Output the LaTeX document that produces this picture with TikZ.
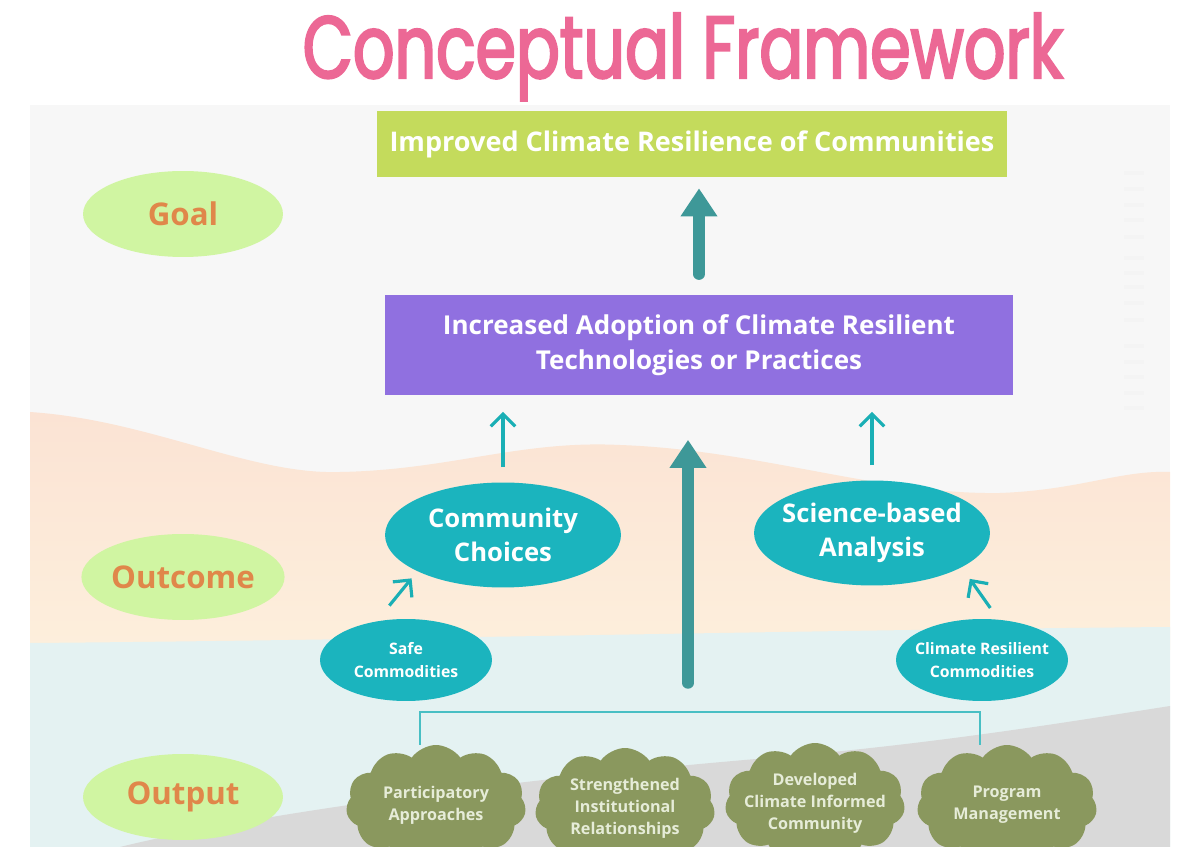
\documentclass[tikz,border=0pt]{standalone}
\usepackage{fontspec}
\setmainfont{Open Sans}
\newfontfamily\titlefont{Poppins}[FakeStretch=0.74,FakeBold=2.5]
\usetikzlibrary{positioning,shapes.geometric,shapes.symbols,arrows.meta}

\definecolor{panel}{HTML}{F7F7F7}
\definecolor{peach}{HTML}{FBE3D4}
\definecolor{cream}{HTML}{FDEFDC}
\definecolor{skyband}{HTML}{E4F2F2}
\definecolor{ground}{HTML}{D9D9D9}
\definecolor{titlepink}{HTML}{EC6895}
\definecolor{limegreen}{HTML}{C4DB5C}
\definecolor{lavender}{HTML}{9070E0}
\definecolor{lightgreen}{HTML}{D0F5A2}
\definecolor{labelorange}{HTML}{E0874A}
\definecolor{tealfill}{HTML}{1BB4BE}
\definecolor{arrowteal}{HTML}{3E9898}
\definecolor{cyanline}{HTML}{1AAFB5}
\definecolor{olive}{HTML}{8A985E}
\definecolor{cloudtext}{HTML}{E6ECD8}

\begin{document}
\begin{tikzpicture}[
x=0.02cm, y=-0.02cm,
levelnode/.style={ellipse, fill=lightgreen, text=labelorange, font=\fontsize{17.8}{20}\selectfont\bfseries, minimum width=4cm, minimum height=1.72cm, inner sep=0pt},
goalbox/.style={rectangle, fill=limegreen, text=white, font=\fontsize{15.4}{18}\selectfont\bfseries, minimum width=12.6cm, minimum height=1.32cm},
purplebox/.style={rectangle, fill=lavender, text=white, align=center, font=\fontsize{14.8}{20}\selectfont\bfseries, minimum width=12.56cm, minimum height=2.02cm},
tealnode/.style={ellipse, fill=tealfill, text=white, align=center, font=\fontsize{14.6}{19.5}\selectfont\bfseries, minimum width=4.72cm, minimum height=2.1cm, inner xsep=-4pt, inner ysep=0pt},
smalltealnode/.style={ellipse, fill=tealfill, text=white, align=center, font=\fontsize{9}{13}\selectfont\bfseries, minimum width=3.44cm, minimum height=1.64cm, inner xsep=-6pt, inner ysep=0pt},
cloudnode/.style={cloud, cloud puffs=11, cloud puff arc=110, aspect=1.5, fill=olive, text=cloudtext, align=center, font=\fontsize{9.2}{12.5}\selectfont\bfseries, minimum width=3.6cm, minimum height=2.4cm, inner xsep=-14pt, inner ysep=-8pt},
bigarrow/.style={draw=arrowteal, line width=6.5pt, line cap=round, -{Triangle[width=20pt,length=16pt]}},
thinarrow/.style={draw=cyanline, line width=1.8pt, -{Straight Barb[length=7pt,width=14pt]}},
bracket/.style={draw=cyanline!80, line width=1.5pt},
]
\useasboundingbox (0,0) rectangle (1177,847);
\clip (0,0) rectangle (1177,847);

%Background
\fill[panel] (30,105) rectangle (1170,847);
\shade[top color=peach, bottom color=cream] (30,412) .. controls (150,420) and (250,475) .. (340,472) .. controls (450,470) and (520,440) .. (620,445) .. controls (760,450) and (880,495) .. (1000,493) .. controls (1080,490) and (1120,470) .. (1170,472) -- (1170,650) -- (30,650) -- cycle;
\fill[skyband] (30,643) .. controls (400,640) and (800,630) .. (1170,627) -- (1170,847) -- (30,847) -- cycle;
\fill[ground] (120,847) .. controls (250,815) and (500,780) .. (780,757) .. controls (950,742) and (1080,720) .. (1170,706) -- (1170,847) -- cycle;
\foreach \y in {173,189,205,220,237,258,273,287,303,320,346,362,377,393,408}
  \draw[gray!9, line width=2.5pt] (1124,\y) -- (1144,\y);

%Nodes
\node[text=titlepink, font=\titlefont\fontsize{50}{56}\selectfont, anchor=base] (title) at (683,78) {Conceptual Framework};

\node[goalbox](goal) at (692,144){Improved Climate Resilience of Communities};
\node[purplebox](adopt) at (699,345){Increased Adoption of Climate Resilient\\Technologies or Practices};

\node[levelnode](lgoal) at (183,214){Goal};
\node[levelnode](loutcome) at (183,577){Outcome};
\node[levelnode](loutput) at (183,797){Output};

\node[tealnode](choices) at (503,535){Community\\Choices};
\node[tealnode](science) at (872,533){Science-based\\Analysis};
\node[smalltealnode](safe) at (406,660){Safe\\Commodities};
\node[smalltealnode](resilient) at (982,660){Climate Resilient\\Commodities};

\node[cloudnode](participatory) at (436,805){Participatory\\Approaches};
\node[cloudnode](institutional) at (625,808){Strengthened\\Institutional\\Relationships};
\node[cloudnode](informed) at (815,803){Developed\\Climate Informed\\Community};
\node[cloudnode](management) at (1007,805){Program\\Management};

\coordinate (bar) at (700,712);
\coordinate (hub) at (688,683);

%Lines
\draw[bracket] ([xshift=-0.32cm]participatory.north) -- ([xshift=-0.32cm]participatory.north |- bar) -- ([xshift=-0.54cm]management.north |- bar) -- ([xshift=-0.54cm]management.north);

\draw[bigarrow, shorten <=0.4cm, shorten >=0.22cm] (adopt.north) -- (adopt.north |- goal.south);
\draw[bigarrow, shorten >=0.88cm] (hub) -- (hub |- adopt.south);

\draw[thinarrow, shorten <=0.3cm, shorten >=0.32cm] (choices.north) -- (choices.north |- adopt.south);
\draw[thinarrow, shorten <=0.3cm, shorten >=0.32cm] (science.north) -- (science.north |- adopt.south);
\draw[thinarrow, shorten <=0.4cm, shorten >=0.18cm] (safe.127) -- (choices.203);
\draw[thinarrow, shorten <=0.28cm, shorten >=0.28cm] (resilient.68) -- (science.339);

\end{tikzpicture}
\end{document}
